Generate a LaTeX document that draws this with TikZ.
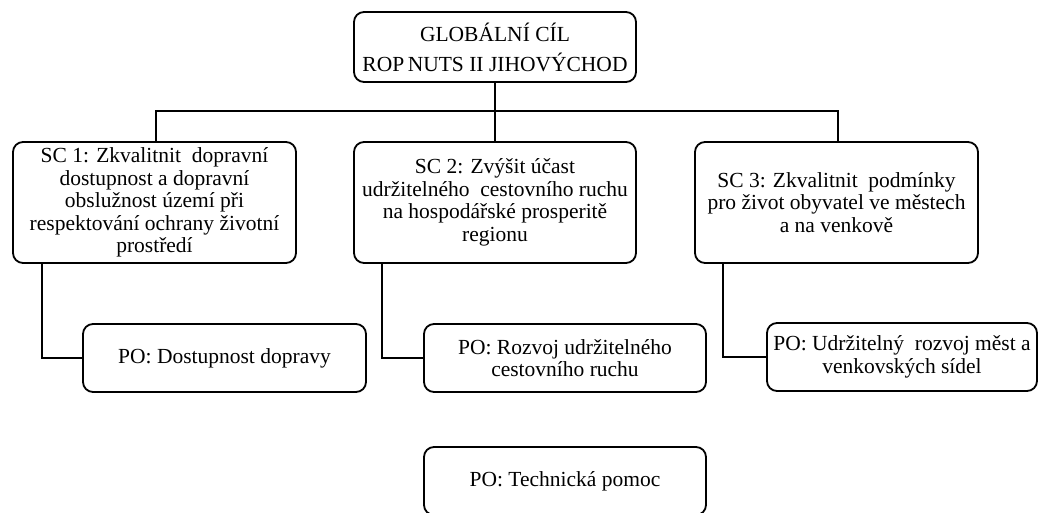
\documentclass[tikz,border=0pt]{standalone}
\usepackage{fontspec}
\setmainfont{Liberation Serif}
\begin{document}
\begin{tikzpicture}[x=1pt,y=-1pt,
  box/.style={draw=black, line width=1.8pt, rounded corners=10pt, align=center, inner sep=0pt,
    font=\fontsize{21.5}{22.5}\selectfont},
  link/.style={draw=black, line width=1.6pt}]
\useasboundingbox (0,0) rectangle (1038,513);
\node[box, minimum width=282pt, minimum height=70pt, font=\fontsize{21.5}{30}\selectfont] (top) at (495,47)
  {GLOBÁLNÍ CÍL\\ROP\,NUTS II JIHOVÝCHOD};
\node[box, minimum width=283pt, minimum height=121pt] (sc1) at (154.5,202.5)
  {SC 1: Zkvalitnit\ \ dopravní\\dostupnost a dopravní\\obslužnost území při\\respektování ochrany životní\\prostředí};
\node[box, minimum width=282pt, minimum height=121pt] (sc2) at (495,202.5)
  {SC 2: Zvýšit účast\\udržitelného\ \ cestovního ruchu\\na hospodářské prosperitě\\regionu};
\node[box, minimum width=283pt, minimum height=121pt] (sc3) at (836.5,202.5)
  {SC 3: Zkvalitnit\ \ podmínky\\pro život obyvatel ve městech\\a na venkově};
\node[box, minimum width=283pt, minimum height=68pt] (po1) at (224.5,358)
  {PO: Dostupnost dopravy};
\node[box, minimum width=282pt, minimum height=68pt] (po2) at (565,358)
  {PO: Rozvoj udržitelného\\cestovního ruchu};
\node[box, minimum width=270pt, minimum height=68pt] (po3) at (902,357)
  {PO: Udržitelný\ \ rozvoj měst a\\venkovských sídel};
\node[box, minimum width=282pt, minimum height=68pt] (tech) at (565,481)
  {PO: Technická pomoc};
\draw[link] (top.south) -- (top.south |- sc2.north);
\draw[link] ([xshift=1.5pt]sc1.north) -- ++(0,-30) -| ([xshift=1.5pt]sc3.north);
\draw[link] ([xshift=30pt]sc1.south west) |- (po1.west);
\draw[link] ([xshift=29pt]sc2.south west) |- (po2.west);
\draw[link] ([xshift=29pt]sc3.south west) |- (po3.west);
\end{tikzpicture}
\end{document}
